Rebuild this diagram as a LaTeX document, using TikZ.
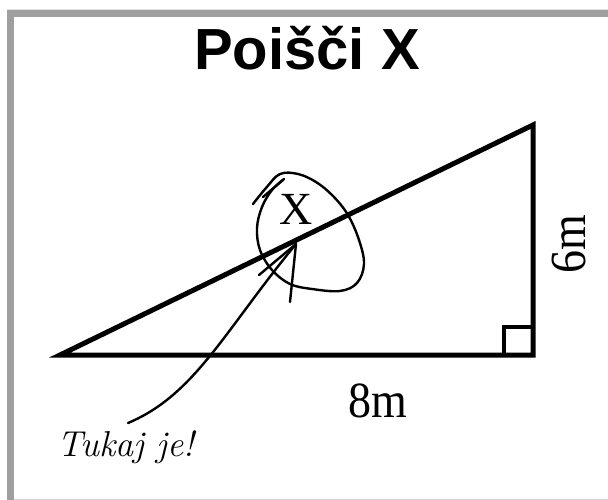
\documentclass[tikz,border=0pt]{standalone}
\usepackage{fontspec}
\newfontfamily\titlefont{Liberation Sans}
\newfontfamily\labelfont{Liberation Serif}
\tikzset{
  tri/.style={line width=5pt, line join=miter, line cap=butt},
  hand/.style={line width=2.4pt, line cap=round, line join=round},
}
\begin{document}
\begin{tikzpicture}[x=1pt,y=-1pt]
\useasboundingbox (0,0) rectangle (608,500);
\fill[white] (0,0) rectangle (608,500);
% frame
\fill[gray!75] (7,10) rectangle (608,17);
\fill[gray!75] (7,10) rectangle (14,500);
\draw[gray!35, line width=1pt] (14,499.5) -- (608,499.5);
\draw[gray!25, line width=0.8pt] (7,9.4) -- (608,9.4);
% title
\node[font=\titlefont\bfseries\fontsize{58}{60}\selectfont, inner sep=0] (title) at (307,48) {Poišči X};
% triangle
\coordinate (A) at (60,355);
\coordinate (B) at (533,355);
\coordinate (C) at (533,125);
\draw[tri] (A) -- (B) -- (C) -- cycle;
\coordinate (S1) at (504,355);
\coordinate (S2) at (504,327);
\coordinate (S3) at (533,327);
\draw[line width=3.5pt] (S1) -- (S2) -- (S3);
% labels
\node[font=\labelfont\fontsize{46}{48}\selectfont, inner sep=0, yscale=1.1] (eight) at (378,401) {8m};
\node[font=\labelfont\fontsize{46}{48}\selectfont, inner sep=0, rotate=90, yscale=1.1] (six) at (569,244) {6m};
\node[font=\labelfont\fontsize{46}{48}\selectfont, inner sep=0] (x) at (296,209) {X};
% oval around X
\draw[hand] plot[smooth, tension=0.6] coordinates {(253,204) (266,188) (280,174) (298,174) (316,182) (333,196) (348,215) (359,240) (364,264) (357,283) (340,291) (312,289) (290,284) (272,270) (260,250) (257,228) (262,207) (272,190) (284,179)};
\draw[hand] (263,197) -- (283,180);
% arrow
\coordinate (tip) at (296,244);
\coordinate (tail) at (128,423);
\draw[hand] (tail) .. controls (195,395) and (225,330) .. (tip);
\coordinate (barbL) at (259,275);
\coordinate (barbR) at (290,302);
\draw[hand] (barbL) -- (tip) -- (barbR);
% handwritten note
\node[font=\itshape\fontsize{36}{38}\selectfont, inner sep=0] (note) at (126,447) {Tukaj je!};
\end{tikzpicture}
\end{document}
